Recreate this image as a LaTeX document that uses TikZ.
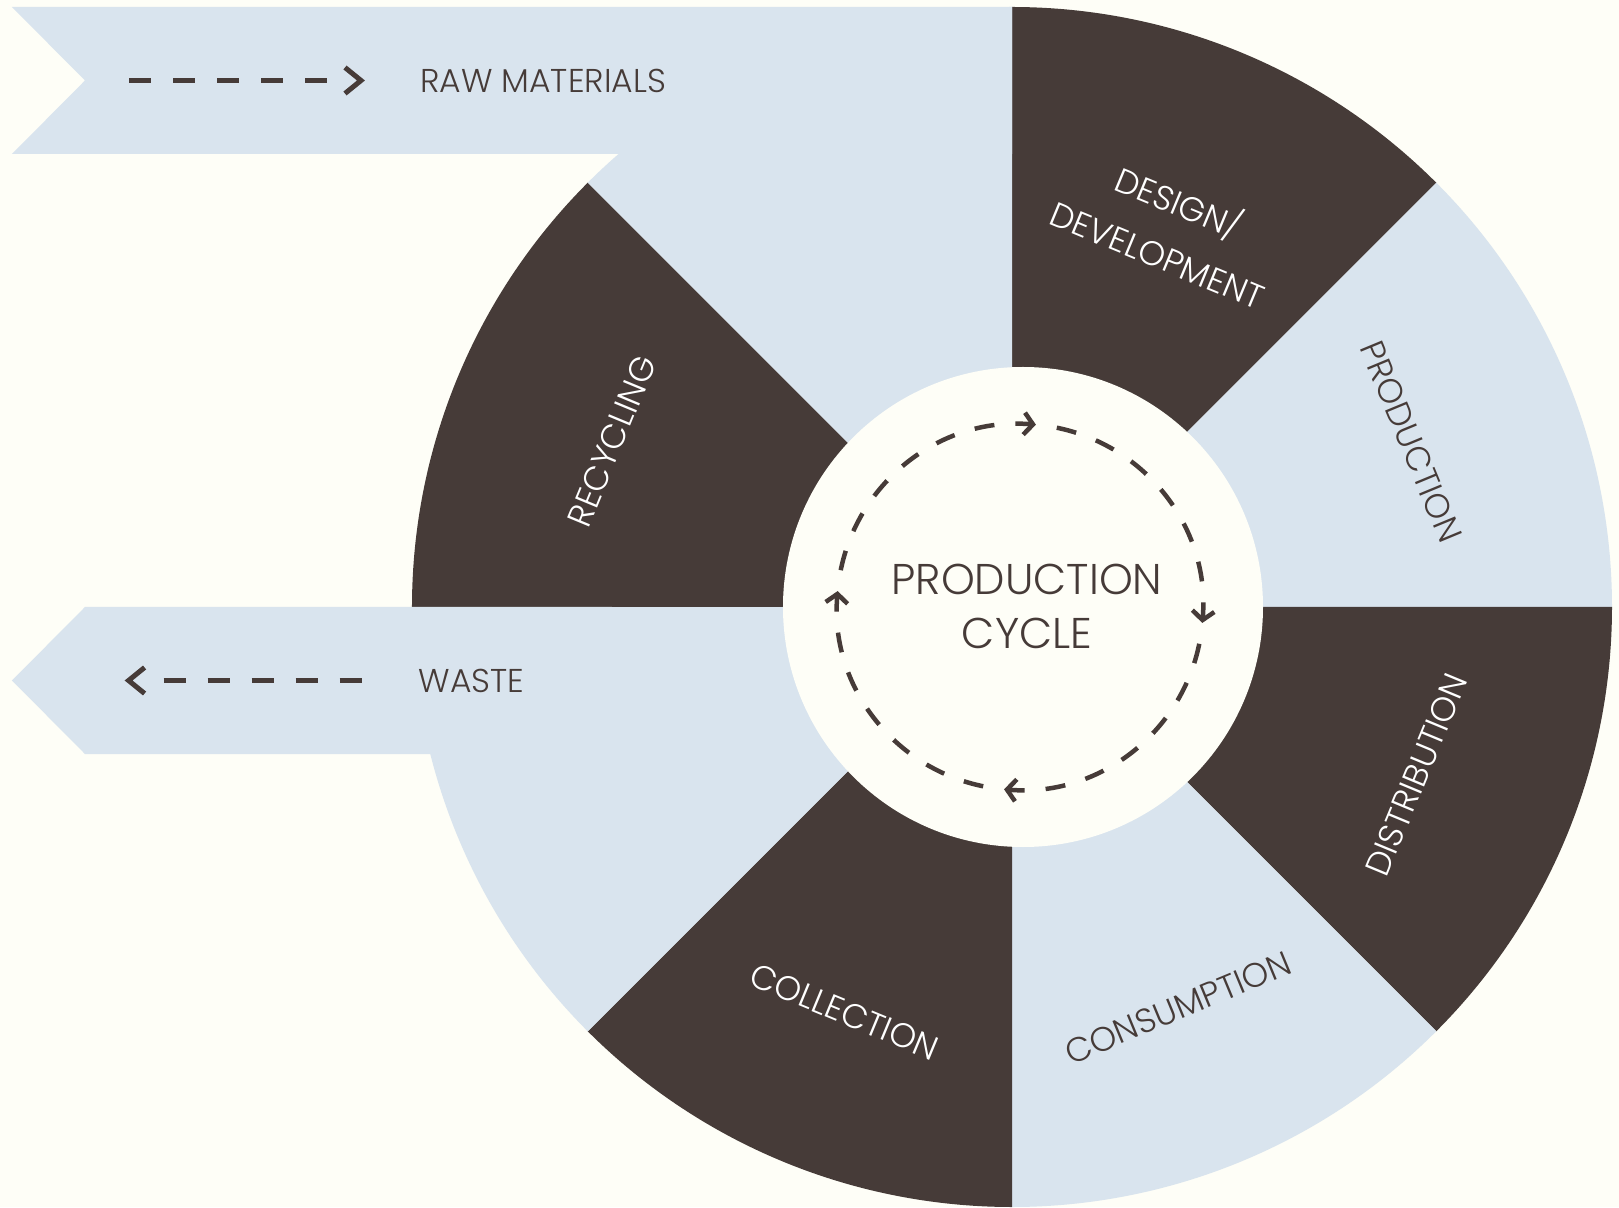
\documentclass[tikz,border=0pt]{standalone}
\usepackage{fontspec}
\setmainfont{Poppins Light}
\usetikzlibrary{arrows.meta}
\definecolor{paper}{HTML}{FEFEF7}
\definecolor{ink}{HTML}{463B38}
\definecolor{sky}{HTML}{D9E4EE}
\begin{document}
\begin{tikzpicture}[x=1pt,y=1pt,
  darkwedge/.style={fill=ink},
  lightwedge/.style={fill=sky},
  seclabel/.style={inner sep=0pt, font=\fontsize{34}{56}\selectfont, align=center},
  onDark/.style={seclabel, text=white},
  onLight/.style={seclabel, text=ink},
  bannertext/.style={inner sep=0pt, anchor=west, text=ink, font=\fontsize{33}{38}\selectfont},
  dashline/.style={draw=ink, line width=5pt, dash pattern=on 22pt off 22pt},
  chevron/.style={draw=ink, line width=5pt, line join=miter},
  cycledash/.style={draw=ink, line width=4.5pt, dash pattern=on 20pt off 21.07pt, dash phase=20pt,
    -{Straight Barb[length=9pt, width=22pt]}}
]
% page background
\useasboundingbox[fill=paper] (-1012,-600) rectangle (607,607);

% outer wheel: eight 45-degree wedges of radius 600
\fill[darkwedge]  (0,0) -- (45:600)   arc[start angle=45,   end angle=90,   radius=600] -- cycle;
\fill[lightwedge] (0,0) -- (0:600)    arc[start angle=0,    end angle=45,   radius=600] -- cycle;
\fill[darkwedge]  (0,0) -- (-45:600)  arc[start angle=-45,  end angle=0,    radius=600] -- cycle;
\fill[lightwedge] (0,0) -- (-90:600)  arc[start angle=-90,  end angle=-45,  radius=600] -- cycle;
\fill[darkwedge]  (0,0) -- (-135:600) arc[start angle=-135, end angle=-90,  radius=600] -- cycle;
\fill[lightwedge] (0,0) -- (180:600)  arc[start angle=180,  end angle=225,  radius=600] -- cycle;
\fill[darkwedge]  (0,0) -- (135:600)  arc[start angle=135,  end angle=180,  radius=600] -- cycle;
\fill[lightwedge] (0,0) -- (90:600)   arc[start angle=90,   end angle=135,  radius=600] -- cycle;

% incoming ribbon (notched tail) and outgoing ribbon (pointed head)
\fill[sky] (-1000,600) -- (0,600) -- (0,453) -- (-1000,453) -- (-927,526.5) -- cycle;
\fill[sky] (-1000,-73.5) -- (-927,0) -- (-400,0) -- (-400,-147) -- (-927,-147) -- cycle;

% hub
\fill[paper] (11,0) circle[radius=240];

% ribbon arrows
\coordinate (rawA) at (-882.5,526.5);
\coordinate (rawB) at (-684.5,526.5);
\coordinate (rawTip) at (-651,526.5);
\draw[dashline] (rawA) -- (rawB);
\draw[chevron] ([shift={(-16,13)}]rawTip) -- (rawTip) -- ([shift={(-16,-13)}]rawTip);

\coordinate (wasteA) at (-650.2,-73.5);
\coordinate (wasteB) at (-848.4,-73.5);
\coordinate (wasteTip) at (-883.4,-73.5);
\draw[dashline] (wasteB) -- (wasteA);
\draw[chevron] ([shift={(16,13)}]wasteTip) -- (wasteTip) -- ([shift={(16,-13)}]wasteTip);

\node[bannertext] (raw) at (-592,526.5) {RAW MATERIALS};
\node[bannertext] (waste) at (-593.4,-73.5) {WASTE};

% clockwise dashed cycle inside the hub
\coordinate (cc) at (8,0);
\draw[cycledash] (cc) ++(175:183) arc[start angle=175, end angle=85,  radius=183];
\draw[cycledash] (cc) ++(85:183)  arc[start angle=85,  end angle=-5,  radius=183];
\draw[cycledash] (cc) ++(-5:183)  arc[start angle=-5,  end angle=-95, radius=183];
\draw[cycledash] (cc) ++(-95:183) arc[start angle=-95, end angle=-185, radius=183];

\node[inner sep=0pt, align=center, text=ink, font=\fontsize{43}{54}\selectfont] (hub) at (15,1) {PRODUCTION\\CYCLE};

% wedge labels
\node[onDark,  rotate=-22.5] (design)  at (67.5:412)   {DESIGN/\\DEVELOPMENT};
\node[onLight, rotate=-67.5] (prod)    at (22.5:432)   {PRODUCTION};
\node[onDark,  rotate=67.5]  (distr)   at (-22.5:438)  {DISTRIBUTION};
\node[onLight, rotate=22.5]  (consume) at (-67.5:434)  {CONSUMPTION};
\node[onDark,  rotate=-22.5] (collect) at (-112.5:438) {COLLECTION};
\node[onDark,  rotate=67.5]  (recycle) at (157.5:433)  {RECYCLING};
\end{tikzpicture}
\end{document}
